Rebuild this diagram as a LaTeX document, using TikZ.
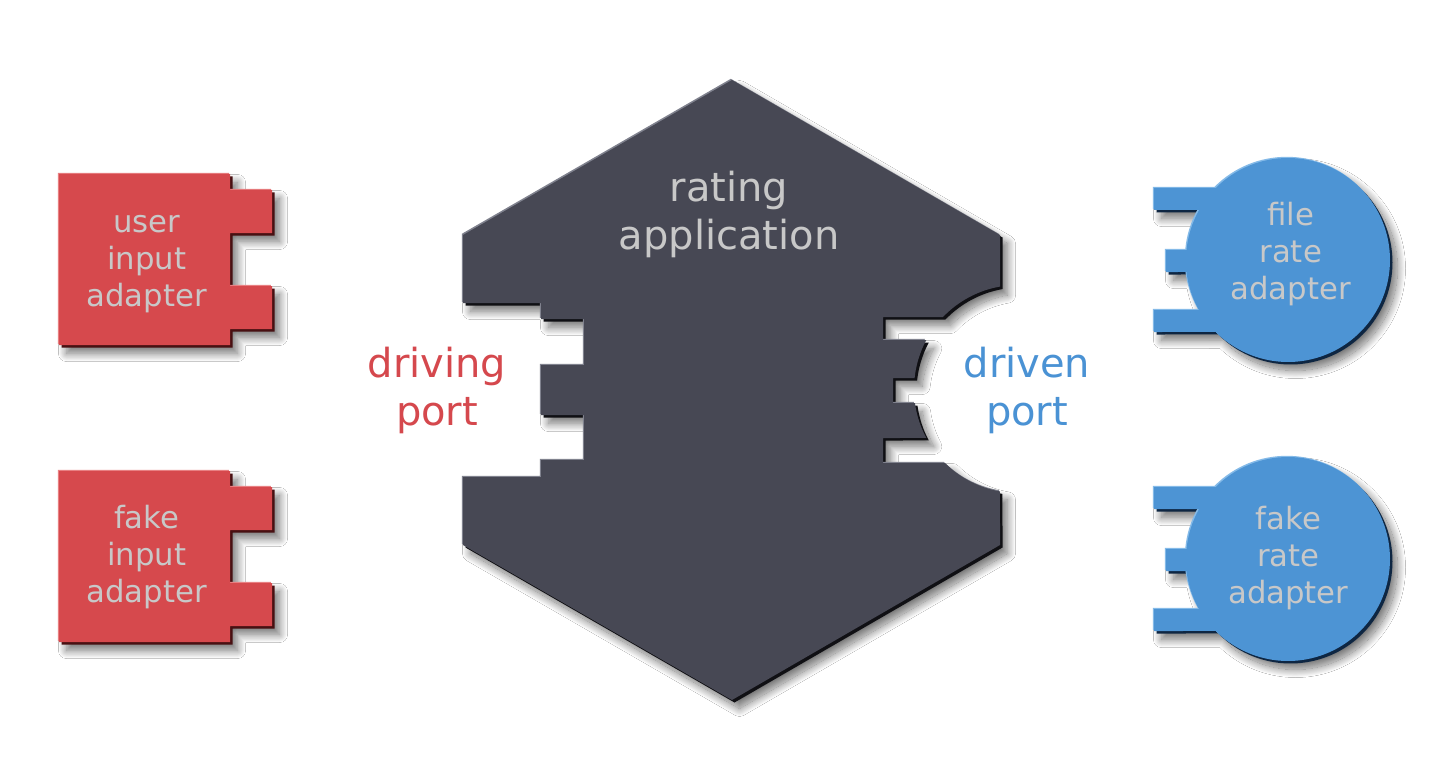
\documentclass[tikz,border=0pt]{standalone}
\usepackage{fontspec}
\setmainfont{DejaVu Sans}
\usetikzlibrary{shadows.blur}
\definecolor{redA}{RGB}{214,73,77}
\definecolor{redD}{RGB}{72,16,18}
\definecolor{redL}{RGB}{232,128,130}
\definecolor{hexA}{RGB}{71,72,84}
\definecolor{hexD}{RGB}{16,16,20}
\definecolor{hexL}{RGB}{128,130,142}
\definecolor{bluA}{RGB}{77,148,212}
\definecolor{bluD}{RGB}{14,38,66}
\definecolor{bluL}{RGB}{132,186,232}
\definecolor{txt}{RGB}{200,200,200}
\definecolor{portR}{RGB}{213,72,77}
\definecolor{portB}{RGB}{74,146,212}
\newcommand\hexpath{(732,-80) -- (1000,-235) -- (1000,-286.57)
 arc[start angle=99.97, end angle=136.19, radius=104]
 -- (883,-317) -- (883,-340) -- (926.27,-340)
 arc[start angle=151.89, end angle=173.93, radius=104]
 -- (893,-378) -- (893,-403) -- (914.95,-403)
 arc[start angle=187.74, end angle=208.11, radius=104]
 -- (883,-438) -- (883,-463) -- (944.92,-463)
 arc[start angle=225.37, end angle=260.03, radius=104]
 -- (1000,-545) -- (732,-700) -- (463,-545) -- (463,-477) -- (541,-477)
 -- (541,-460) -- (584,-460) -- (584,-415) -- (541,-415) -- (541,-365)
 -- (584,-365) -- (584,-319) -- (541,-319) -- (541,-303) -- (463,-303)
 -- (463,-235) -- cycle}
\newcommand\redpath{(59,-174) -- (230,-174) -- (230,-190) -- (272,-190)
 -- (272,-233) -- (230,-233) -- (230,-286) -- (272,-286) -- (272,-329)
 -- (230,-329) -- (230,-345) -- (59,-345) -- cycle}
\newcommand\bluepath{(1154,-188) -- (1215.75,-188)
 arc[start angle=135.1, end angle=-135.1, radius=102]
 -- (1154,-332) -- (1154,-310) -- (1198.9,-310)
 arc[start angle=209.36, end angle=186.76, radius=102]
 -- (1166,-272) -- (1166,-250) -- (1186.5,-250)
 arc[start angle=174.37, end angle=150.64, radius=102]
 -- (1154,-210) -- cycle}
% #1 path, #2 dark, #3 light, #4 main, #5 y offset
\newcommand\drawpiece[5]{%
  \fill[#2, blur shadow={shadow xshift=5pt, shadow yshift=-6pt, shadow blur radius=8pt, shadow blur steps=24, shadow opacity=55}, shift={(2.5,#5-2.5)}] #1;
  \fill[#3, shift={(-1.2,#5+1.2)}] #1;
  \fill[#4, shift={(0,#5)}] #1;
}
\begin{document}
\begin{tikzpicture}[x=1pt,y=1pt,
  lblbig/.style={font=\fontsize{40}{48}\selectfont, align=center, inner sep=0pt},
  lblsmall/.style={font=\fontsize{30.7}{37}\selectfont, align=center, inner sep=0pt, text=txt}]
\useasboundingbox[fill=white] (0,0) rectangle (1436,-773);
\drawpiece{\hexpath}{hexD}{hexL}{hexA}{0}
\drawpiece{\redpath}{redD}{redL}{redA}{0}
\drawpiece{\redpath}{redD}{redL}{redA}{-297}
\drawpiece{\bluepath}{bluD}{bluL}{bluA}{0}
\drawpiece{\bluepath}{bluD}{bluL}{bluA}{-299}
\node[lblbig, text=txt] (app) at (729,-214.5) {rating\\application};
\node[lblbig, text=portR] (drv) at (437,-390) {driving\\port};
\node[lblbig, text=portB] (drn) at (1027,-390) {driven\\port};
\node[lblsmall] (uia) at (146.7,-264.3) {user\\input\\adapter};
\node[lblsmall] (fia) at (146.7,-557) {fake\\input\\adapter};
\node[lblsmall] (fra) at (1290.7,-253.6) {file\\rate\\adapter};
\node[lblsmall] (kra) at (1288.3,-558.3) {fake\\rate\\adapter};
\end{tikzpicture}
\end{document}
